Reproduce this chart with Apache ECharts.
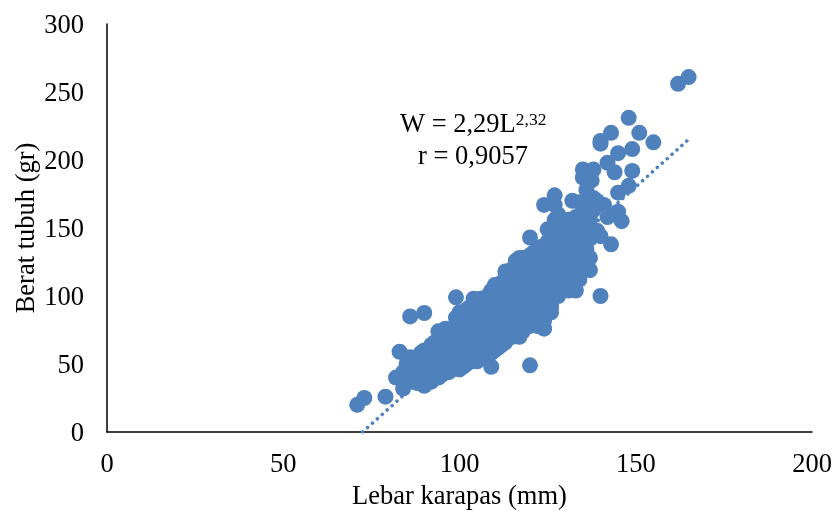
<!DOCTYPE html>
<html><head><meta charset="utf-8">
<style>html,body{margin:0;padding:0;background:#fff}#c{width:834px;height:511px}</style>
<script src="https://cdn.jsdelivr.net/npm/echarts@6/dist/echarts.min.js"></script>
</head><body><div id="c"></div>
<script>
const xTicks = [0, 50, 100, 150, 200];
const yTicks = [0, 50, 100, 150, 200, 250, 300];
const xName = 'Lebar karapas (mm)';
const yName = 'Berat tubuh (gr)';
const trendLine = [[72.5, 0], [164.5, 214]];
const outliers = [[71,20],[73,25],[79,26],[86,85],[90,87.5],[99,99],[120,49],[109,48],[140,100],
[165,261],[162,256],[148,231],[143,220],[140,214],[140,212],[151,220],[155,213],[145,205],[149,208],
[142,198],[144,191],[149,192],[148,181],[145,176],[135,193],[138,193],[135,187],[137.5,185],[127,174],
[124,167],[127,167],[132,170],[134,169],[120,143],[140,144],[143,138],[146,155],[145,162],[142,158],
[139,170],[136,178],[138,163],[141,167],[137,119],[133,104],[130,105],[134,117],[124,76],[117,70],
[126,95],[83,59],[82,40],[84,32],[90,34],[92,37]];
const clusterA = [[84,44],[85,50],[86,55],[86,40],[87,47],[87,38],[88,52],[88,43],[89,58],[89,48],[89,40],
[90,60],[90,54],[90,45],[91,50],[91,41],[91,60],[92,56],[92,46],[93,52],[93,42],[94,58],[94,48],[94,44],
[95,55],[95,62],[95,46],[96,50],[96,58],[96,44],[97,54],[97,62],[97,47],[98,66],[98,58],[98,50],[99,72],
[99,62],[99,54],[99,47],[100,68],[100,60],[100,52],[100,49],[101,75],[101,64],[101,56],[101,50],[102,70],
[102,60],[102,53],[103,78],[103,66],[103,58],[103,52],[104,72],[104,62],[104,55],[105,88],[105,80],[105,68],
[105,60],[105,56],[106,92],[106,74],[106,64],[106,58],[107,96],[107,84],[107,70],[107,60],[108,90],[108,76],
[108,66],[108,60],[109,98],[109,82],[109,72],[109,63]];
const clusterB = [[110,104],[110,90],[110,78],[110,66],[111,108],[111,94],[111,82],[111,70],[112,100],[112,88],
[112,76],[112,68],[113,118],[113,106],[113,92],[113,80],[113,72],[114,110],[114,96],[114,84],[114,74],[115,112],
[115,100],[115,88],[115,78],[116,126],[116,108],[116,94],[116,84],[116,76],[117,124],[117,112],[117,98],[117,88],
[117,80],[118,128],[118,116],[118,102],[118,92],[118,80],[119,118],[119,106],[119,96],[119,84],[120,130],[120,120],
[120,108],[120,98],[120,86],[121,126],[121,112],[121,100],[121,90],[122,132],[122,118],[122,104],[122,92],[123,128],
[123,114],[123,102],[123,92],[124,136],[124,122],[124,110],[124,98],[124,86],[125,149],[125,130],[125,116],[125,102],
[126,140],[126,124],[126,110],[127,156],[127,134],[127,118],[127,106],[128,160],[128,142],[128,126],[128,112],[129,148],
[129,132],[129,118],[130,150],[130,136],[130,122],[130,112],[131,146],[131,128],[131,114],[132,152],[132,134],[132,120],
[133,158],[133,142],[133,126],[134,148],[134,130],[134,112],[135,160],[135,136],[135,122],[136,166],[136,146],[137,156],
[137,128],[138,172],[139,148],[126,88],[122,82],[118,76],[114,72],[130,108]];
const clusterC = [[88,36],[86,46],[90,38],[92,42],[93,48],[94,40],[95,42],[96,46],[97,44],[98,46],[99,50],[100,46],[101,48],
[96,76],[94,74],[92,64],[93,66],[95,68],[97,70],[98,76],[99,84],[100,88],[101,86],[102,90],[103,92],[104,98],[106,98],
[103,84],[104,86],[102,80],[100,78],[97,66],[102,50],[104,52],[105,52],[106,54],[107,56],[108,56],[109,58],[110,60],
[111,62],[112,64],[113,66],[115,70],[116,72],[118,74],[120,78],[122,78],[124,82],[126,92],[128,100],[129,106],[131,104],
[108,100],[109,104],[110,108],[112,110],[114,118],[115,120],[117,128],[119,128],[121,132],[123,136],[125,140],[127,146],
[129,154],[131,156],[134,156],[133,136],[136,134],[137,142]];
const points = outliers.concat(clusterA, clusterB, clusterC);
const chart = echarts.init(document.getElementById('c'), null, {renderer:'canvas'});
const font = '"Liberation Serif","Times New Roman",serif';
chart.setOption({
  animation:false,
  backgroundColor:'#fff',
  grid:{left:107,right:22,top:24,bottom:79,outerBoundsMode:'none',containLabel:false},
  xAxis:{type:'value',min:xTicks[0],max:xTicks[xTicks.length-1],interval:50,
    name:xName,nameLocation:'middle',nameGap:52,nameMoveOverlap:false,
    nameTextStyle:{fontFamily:font,fontSize:26.5,color:'#000'},
    axisLine:{show:true,onZero:false,lineStyle:{color:'#000',width:1.5}},
    axisTick:{show:false},splitLine:{show:false},
    axisLabel:{fontFamily:font,fontSize:26.5,color:'#000',margin:20}},
  yAxis:{type:'value',min:yTicks[0],max:yTicks[yTicks.length-1],interval:50,
    name:yName,nameLocation:'middle',nameGap:66,nameMoveOverlap:false,
    nameTextStyle:{fontFamily:font,fontSize:26.5,color:'#000'},
    axisLine:{show:true,onZero:false,lineStyle:{color:'#000',width:1.5}},
    axisTick:{show:false},splitLine:{show:false},
    axisLabel:{fontFamily:font,fontSize:26.5,color:'#000',margin:23,verticalAlign:'top',lineHeight:4}},
  series:[
    {type:'scatter',data:points,symbolSize:16,itemStyle:{color:'#4f81bd',opacity:1},z:2},
    {type:'line',data:trendLine,symbol:'none',silent:true,z:3,
     lineStyle:{color:'#4f81bd',width:3.5,type:[0.1,6.5],cap:'round'}}
  ],
  graphic:[{type:'text',left:400,top:111,z:10,style:{
    text:'{a|W = 2,29L}{s|2,32}',
    rich:{a:{fontFamily:font,fontSize:26.5,fill:'#000',color:'#000'},
          s:{fontFamily:font,fontSize:17.5,fill:'#000',color:'#000',verticalAlign:'top',padding:[0,0,10,0]}}}},
   {type:'text',left:418,top:144,z:10,style:{text:'r = 0,9057',fontFamily:font,fontSize:26.5,fill:'#000'}}]
});
</script></body></html>
